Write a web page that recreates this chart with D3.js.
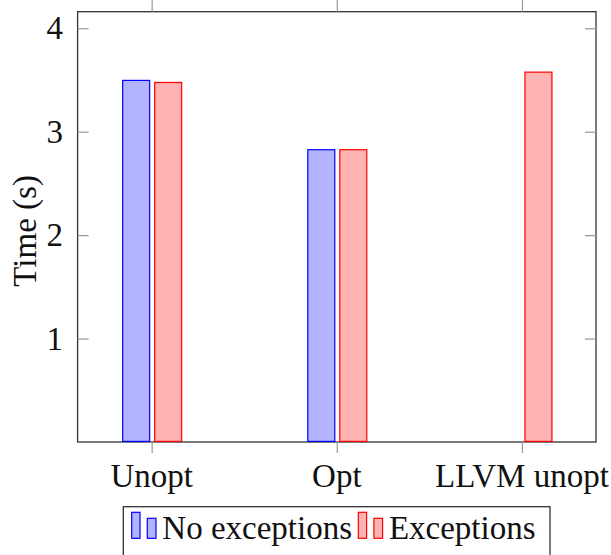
<!DOCTYPE html>
<html><head><meta charset="utf-8">
<script src="https://cdn.jsdelivr.net/npm/d3@7"></script>
<style>body{margin:0;background:#fff}svg{display:block}</style>
</head><body>
<script>
const categories = ["Unopt", "Opt", "LLVM unopt"];
const seriesNames = ["No exceptions", "Exceptions"];
const noExceptions = [3.49, 2.82, 0];
const exceptions = [3.47, 2.82, 3.57];
const yTicks = [1, 2, 3, 4];

const W = 611, H = 555;
const L = 77.6, R = 596, T = 11.7, B = 442;
const font = "'Liberation Serif', 'Times New Roman', serif";
const fs = 33;

const svg = d3.select("body").append("svg").attr("width", W).attr("height", H);

const x = d3.scalePoint().domain(categories).range([L, R]).padding(0.4);
const y = d3.scaleLinear().domain([0, 4.16]).range([B, T]);
const inner = d3.scaleBand().domain(seriesNames).range([-29, 30]).paddingInner(5/32);
const fills = {"No exceptions": "#b3b3ff", "Exceptions": "#ffb3b3"};
const strokes = {"No exceptions": "#0000ff", "Exceptions": "#ff0000"};
const vals = {"No exceptions": noExceptions, "Exceptions": exceptions};

// frame
svg.append("rect").attr("x", L).attr("y", T).attr("width", R - L).attr("height", B - T)
  .attr("fill", "none").attr("stroke", "#333").attr("stroke-width", 1.3);

// bars
seriesNames.forEach(s => {
  svg.append("g").selectAll("rect").data(categories).join("rect")
    .attr("x", c => x(c) + inner(s))
    .attr("width", inner.bandwidth())
    .attr("y", (c, i) => y(vals[s][i]) - 0.6)
    .attr("height", (c, i) => y(0) - y(vals[s][i]))
    .attr("fill", fills[s]).attr("stroke", strokes[s]).attr("stroke-width", 1.2);
});

// axes (ticks)
const tickCol = "#999";
const gL = svg.append("g").attr("transform", `translate(${L},0)`)
  .call(d3.axisRight(y).tickValues(yTicks).tickSize(11).tickFormat(""));
const gR = svg.append("g").attr("transform", `translate(${R},0)`)
  .call(d3.axisLeft(y).tickValues(yTicks).tickSize(11).tickFormat(""));
const gB = svg.append("g").attr("transform", `translate(0,${B})`)
  .call(d3.axisBottom(x).tickSize(11).tickFormat(""));
const gT = svg.append("g").attr("transform", `translate(0,${T})`)
  .call(d3.axisTop(x).tickSize(12).tickFormat(""));
[gL, gR, gB, gT].forEach(g => {
  g.select(".domain").remove();
  g.selectAll(".tick line").attr("stroke", tickCol).attr("stroke-width", 1.2);
});

// tick labels
svg.append("g").selectAll("text").data(yTicks).join("text")
  .attr("x", 63).attr("y", d => y(d) + 11)
  .attr("text-anchor", "end").attr("font-family", font).attr("font-size", fs)
  .attr("fill", "#111").text(d => d);
svg.append("g").selectAll("text").data(categories).join("text")
  .attr("x", d => x(d)).attr("y", 487)
  .attr("text-anchor", "middle").attr("font-family", font).attr("font-size", fs)
  .attr("fill", "#111").text(d => d);

// y label
svg.append("text").attr("transform", `translate(36,${(T + B) / 2 + 4}) rotate(-90)`)
  .attr("text-anchor", "middle").attr("font-family", font).attr("font-size", fs)
  .attr("fill", "#111").text("Time (s)");

// legend
const lg = svg.append("g");
lg.append("rect").attr("x", 123.3).attr("y", 506.7).attr("width", 550 - 123.3).attr("height", 60)
  .attr("fill", "#fff").attr("stroke", "#333").attr("stroke-width", 1.3);
const legX = [131.7, 358.3];
seriesNames.forEach((s, i) => {
  const g = lg.append("g").attr("transform", `translate(${legX[i]},0)`);
  g.append("rect").attr("x", 0).attr("y", 512.3).attr("width", 8.3).attr("height", 26)
    .attr("fill", fills[s]).attr("stroke", strokes[s]).attr("stroke-width", 1.2);
  g.append("rect").attr("x", 15.6).attr("y", 518.3).attr("width", 8.7).attr("height", 20)
    .attr("fill", fills[s]).attr("stroke", strokes[s]).attr("stroke-width", 1.2);
  g.append("text").attr("x", 30.6).attr("y", 539).attr("font-family", font).attr("font-size", fs)
    .attr("fill", "#111").text(s);
});
</script>
</body></html>
